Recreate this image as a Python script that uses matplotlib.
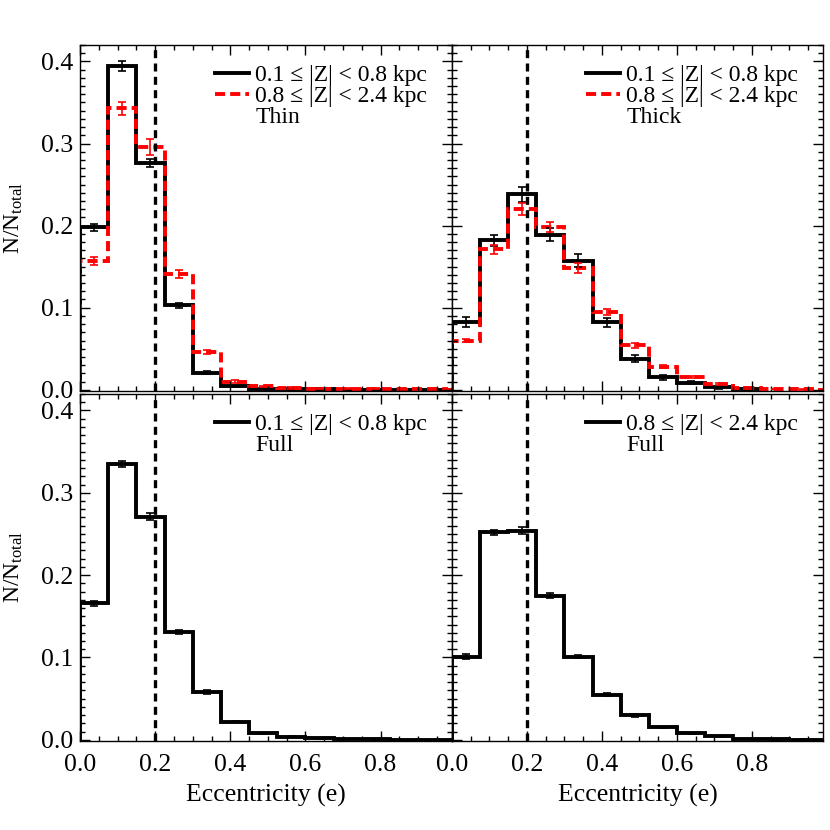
import numpy as np
import matplotlib
matplotlib.use("Agg")
import matplotlib.pyplot as plt
from matplotlib.ticker import MultipleLocator
from matplotlib.lines import Line2D

plt.rcParams['font.family'] = ['Liberation Serif', 'DejaVu Serif']
plt.rcParams['mathtext.fontset'] = 'custom'
plt.rcParams['mathtext.rm'] = 'Liberation Serif'
plt.rcParams['mathtext.it'] = 'Liberation Serif:italic'

# ---------------- data ----------------
bin_width = 0.075
e_cut = 0.2

thin_low = [0.198, 0.394, 0.276, 0.103, 0.021, 0.004, 0.0012, 0.0006, 0.0004, 0.0003, 0.0002, 0.0001, 0.0001, 0.0001]
thin_low_err = [0.004, 0.006, 0.005, 0.003, 0.0015, 0.0008, 0.0004, 0.0003, 0.0002, 0.0002, 0.0001, 0.0001, 0.0001, 0.0001]
thin_high = [0.157, 0.343, 0.296, 0.141, 0.046, 0.010, 0.004, 0.002, 0.0015, 0.001, 0.0015, 0.0007, 0.0004, 0.0002]
thin_high_err = [0.005, 0.008, 0.010, 0.005, 0.003, 0.0015, 0.001, 0.0008, 0.0007, 0.0006, 0.0006, 0.0005, 0.0003, 0.0002]

thick_low = [0.083, 0.182, 0.238, 0.189, 0.157, 0.082, 0.038, 0.015, 0.0085, 0.003, 0.001]
thick_low_err = [0.006, 0.007, 0.009, 0.008, 0.008, 0.006, 0.004, 0.003, 0.002, 0.0015, 0.001]
thick_high = [0.060, 0.171, 0.220, 0.198, 0.148, 0.095, 0.054, 0.028, 0.0155, 0.0073, 0.002, 0.001, 0.0005, 0.0003]
thick_high_err = [0.002, 0.005, 0.007, 0.006, 0.006, 0.004, 0.003, 0.002, 0.0015, 0.001, 0.0008, 0.0005, 0.0003, 0.0002]

full_low = [0.166, 0.335, 0.271, 0.131, 0.058, 0.022, 0.008, 0.0036, 0.0016, 0.0007, 0.0004, 0.0002, 0.0001, 0.0001]
full_low_err = [0.003, 0.004, 0.004, 0.002, 0.002, 0.001, 0.0007, 0.0005, 0.0003, 0.0002, 0.0001, 0.0001, 0.0001, 0.0001]
full_high = [0.101, 0.252, 0.254, 0.175, 0.101, 0.0547, 0.0296, 0.015, 0.0077, 0.004, 0.001, 0.0005, 0.0003, 0.0002]
full_high_err = [0.003, 0.003, 0.004, 0.003, 0.002, 0.002, 0.0015, 0.001, 0.001, 0.0008, 0.0005, 0.0003, 0.0002, 0.0001]

label_low = "0.1 ≤ |Z| < 0.8 kpc"
label_high = "0.8 ≤ |Z| < 2.4 kpc"
xticks = [0.0, 0.2, 0.4, 0.6, 0.8]
yticks = [0.0, 0.1, 0.2, 0.3, 0.4]

# ---------------- figure ----------------
W = H = 830
fig = plt.figure(figsize=(8.3, 8.3), dpi=100)

def ax_at(x0, y0, x1, y1):
    return fig.add_axes([x0 / W, 1 - y1 / H, (x1 - x0) / W, (y1 - y0) / H])

ax_tl = ax_at(80, 45, 452, 391)
ax_tr = ax_at(452, 45, 823, 391)
ax_bl = ax_at(80, 394, 452, 741)
ax_br = ax_at(452, 394, 823, 741)

LW = 2.8
red_ls = (0, (2.6, 1.3))

def hist(ax, vals, errs, color, ls):
    vals = np.asarray(vals)
    edges = np.arange(len(vals) + 1) * bin_width
    centers = edges[:-1] + bin_width / 2
    ax.stairs(vals, edges, color=color, lw=LW, linestyle=ls, baseline=0)
    ax.errorbar(centers, vals, yerr=errs, fmt='none', ecolor=color,
                elinewidth=1.2, capsize=3, capthick=1.2)

def style(ax, left_labels, bottom_labels):
    ax.set_xlim(0, 0.99)
    ax.set_ylim(-0.0015, 0.42)
    ax.set_xticks(xticks)
    ax.set_yticks(yticks)
    ax.xaxis.set_minor_locator(MultipleLocator(0.05))
    ax.yaxis.set_minor_locator(MultipleLocator(0.01))
    ax.tick_params(which='both', direction='in', top=True, right=True,
                   labelsize=18.5, width=1.0)
    ax.tick_params(which='major', length=7)
    ax.tick_params(which='minor', length=3.5)
    ax.tick_params(axis='y', pad=5)
    ax.tick_params(axis='x', pad=9)
    ax.set_xticklabels([f"{t:.1f}" for t in xticks] if bottom_labels else [])
    ax.set_yticklabels([f"{t:.1f}" for t in yticks] if left_labels else [])
    for s in ax.spines.values():
        s.set_linewidth(1.0)
    ax.axvline(e_cut, color='black', lw=2.4, linestyle=(0, (2.4, 1.6)), zorder=1)
    if left_labels:
        ax.set_ylabel(r'N/N$_{\mathrm{total}}$', fontsize=17)
        ax.yaxis.set_label_coords(-0.148, 0.5)
    if bottom_labels:
        ax.set_xlabel('Eccentricity (e)', fontsize=18.5, labelpad=6)

def legend(ax, entries):
    handles = []
    for lab, col, ls in entries:
        if col is None:
            handles.append(Line2D([], [], color='none', label=lab))
        else:
            handles.append(Line2D([], [], color=col, lw=LW, linestyle=ls, label=lab))
    ax.legend(handles=handles, loc='upper right', bbox_to_anchor=(1.0, 1.015),
              frameon=False, fontsize=17,
              handlelength=1.45, handletextpad=0.25, labelspacing=-0.02,
              borderaxespad=0.8, borderpad=0.25)

hist(ax_tl, thin_low, thin_low_err, 'black', '-')
hist(ax_tl, thin_high, thin_high_err, 'red', red_ls)
style(ax_tl, True, False)
legend(ax_tl, [(label_low, 'black', '-'), (label_high, 'red', red_ls), ('Thin', None, None)])

hist(ax_tr, thick_low, thick_low_err, 'black', '-')
hist(ax_tr, thick_high, thick_high_err, 'red', red_ls)
style(ax_tr, False, False)
legend(ax_tr, [(label_low, 'black', '-'), (label_high, 'red', red_ls), ('Thick', None, None)])

hist(ax_bl, full_low, full_low_err, 'black', '-')
style(ax_bl, True, True)
legend(ax_bl, [(label_low, 'black', '-'), ('Full', None, None)])

hist(ax_br, full_high, full_high_err, 'black', '-')
style(ax_br, False, True)
legend(ax_br, [(label_high, 'black', '-'), ('Full', None, None)])

fig.savefig('out.png', dpi=100)
